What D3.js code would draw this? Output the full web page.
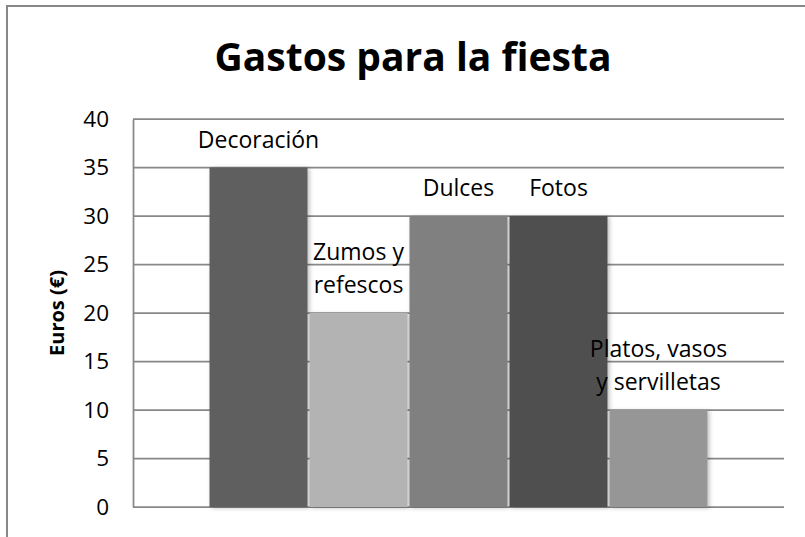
<!DOCTYPE html>
<html>
<head>
<meta charset="utf-8">
<script src="https://cdn.jsdelivr.net/npm/d3@7"></script>
<style>
  body { margin: 0; background: #fff; }
  svg { display: block; font-family: 'Open Sans', sans-serif; }
</style>
</head>
<body>
<script>
// data
const categories = ['Decoración', 'Zumos y refescos', 'Dulces', 'Fotos', 'Platos, vasos y servilletas'];
const labelLines = [['Decoración'], ['Zumos y', 'refescos'], ['Dulces'], ['Fotos'], ['Platos, vasos', 'y servilletas']];
const values = [35, 20, 30, 30, 10];
const yTicks = [0, 5, 10, 15, 20, 25, 30, 35, 40];
const colors = ['#5f5f5f', '#b3b3b3', '#808080', '#4f4f4f', '#969696'];

// layout
const width = 805;
const height = 537;
const plot = { left: 133, top: 119, right: 784, bottom: 507 };
const gridColor = '#888';

const svg = d3.select('body')
  .append('svg')
  .attr('width', width)
  .attr('height', height);

// soft shadow under the bars
const defs = svg.append('defs');
const shadow = defs.append('filter')
  .attr('id', 'shadow')
  .attr('x', '-10%').attr('y', '-10%')
  .attr('width', '130%').attr('height', '130%');
shadow.append('feDropShadow')
  .attr('dx', 2).attr('dy', 1)
  .attr('stdDeviation', 2)
  .attr('flood-color', '#000')
  .attr('flood-opacity', 0.25);

// outer frame (only top and left edges visible)
svg.append('path')
  .attr('d', `M7,${height} V6 H${width}`)
  .attr('fill', 'none')
  .attr('stroke', gridColor)
  .attr('stroke-width', 2);

// scales
const x = d3.scaleBand()
  .domain(categories)
  .range([plot.left, plot.right])
  .paddingInner(0.02)
  .paddingOuter(0.765);
const y = d3.scaleLinear()
  .domain([0, 40])
  .range([plot.bottom, plot.top]);

// gridlines
svg.append('g')
  .selectAll('line')
  .data(yTicks)
  .join('line')
  .attr('x1', plot.left)
  .attr('x2', plot.right)
  .attr('y1', (d) => y(d))
  .attr('y2', (d) => y(d))
  .attr('stroke', gridColor)
  .attr('stroke-width', 1.75);

// y axis (line + labels)
const gLeft = svg.append('g')
  .attr('transform', `translate(${plot.left}, 0)`);
d3.axisLeft(y)
  .tickValues(yTicks)
  .tickSize(0)
  .tickPadding(24)(gLeft);
gLeft.select('.domain')
  .attr('stroke', gridColor)
  .attr('stroke-width', 1.75);
gLeft.selectAll('text')
  .attr('font-family', 'Open Sans, sans-serif')
  .attr('font-size', 22.5)
  .attr('fill', '#000');

// bars
svg.append('g')
  .selectAll('rect')
  .data(values)
  .join('rect')
  .attr('x', (d, i) => x(categories[i]))
  .attr('y', (d) => y(d))
  .attr('width', x.bandwidth())
  .attr('height', (d) => y(0) - y(d))
  .attr('fill', (d, i) => colors[i])
  .attr('filter', 'url(#shadow)');

// bar labels, last line sits ~20px above the bar
const labels = svg.append('g')
  .attr('font-size', 23)
  .attr('text-anchor', 'middle')
  .attr('fill', '#000');
labelLines.forEach((lines, i) => {
  const cx = x(categories[i]) + x.bandwidth() / 2;
  const base = y(values[i]) - 20;
  lines.forEach((line, j) => {
    labels.append('text')
      .attr('x', cx)
      .attr('y', base - (lines.length - 1 - j) * 33)
      .text(line);
  });
});

// y-axis title
svg.append('text')
  .attr('transform', `translate(64, ${(plot.top + plot.bottom) / 2}) rotate(-90)`)
  .attr('text-anchor', 'middle')
  .attr('font-size', 20)
  .attr('font-weight', 'bold')
  .text('Euros (€)');

// chart title
svg.append('text')
  .attr('x', 413)
  .attr('y', 71)
  .attr('text-anchor', 'middle')
  .attr('font-size', 39)
  .attr('font-weight', 'bold')
  .text('Gastos para la fiesta');
</script>
</body>
</html>
